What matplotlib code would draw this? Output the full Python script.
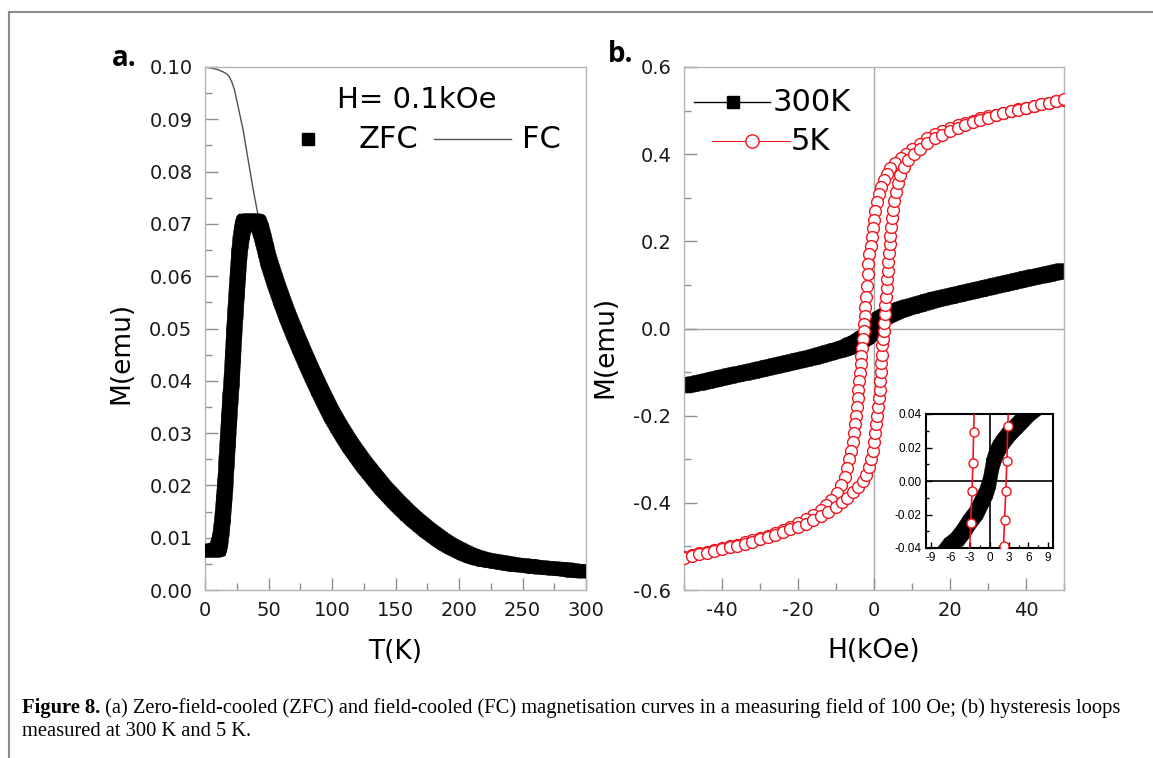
import numpy as np
import matplotlib
matplotlib.use('Agg')
import matplotlib.pyplot as plt
from matplotlib.lines import Line2D
from matplotlib.collections import PolyCollection
from matplotlib.ticker import MultipleLocator, FormatStrFormatter

plt.rcParams['font.family'] = 'DejaVu Sans'
plt.rcParams['axes.unicode_minus'] = False

# ---- (a) ZFC / FC, T in K, M in emu
T_zfc = [2, 4, 6, 8, 10, 11, 12, 13, 14, 15,
         16, 17, 18, 19, 20, 21, 22, 23, 24, 25,
         26, 27, 28, 29, 30, 31, 32, 33, 34, 35,
         36, 37, 38, 39, 40, 41, 42, 44, 46, 48,
         50, 55, 60, 65, 70, 75, 80, 85, 90, 95,
         100, 105, 110, 115, 120, 125, 130, 135, 140, 145,
         150, 155, 160, 165, 170, 175, 180, 185, 190, 195,
         200, 205, 210, 215, 220, 225, 230, 235, 240, 245,
         250, 255, 260, 265, 270, 275, 280, 285, 290, 295,
         300]
M_zfc = [0.0075, 0.0075, 0.0075, 0.0076, 0.0078, 0.0085, 0.0095, 0.0115, 0.0140, 0.0170,
         0.0200, 0.0245, 0.0285, 0.0325, 0.0365, 0.0400, 0.0445, 0.0490, 0.0530, 0.0570,
         0.0605, 0.0640, 0.0665, 0.0682, 0.0695, 0.0702, 0.0705, 0.0706, 0.0706, 0.0706,
         0.0706, 0.0706, 0.0706, 0.0706, 0.0705, 0.0704, 0.0701, 0.0688, 0.0670, 0.0650,
         0.0630, 0.0592, 0.0557, 0.0524, 0.0494, 0.0465, 0.0437, 0.0410, 0.0384, 0.0359,
         0.0335, 0.0314, 0.0294, 0.0275, 0.0258, 0.0241, 0.0226, 0.0211, 0.0196, 0.0183,
         0.0170, 0.0158, 0.0146, 0.0135, 0.0125, 0.0115, 0.0106, 0.0097, 0.0089, 0.0082,
         0.0076, 0.0070, 0.0065, 0.0061, 0.0058, 0.0056, 0.0054, 0.0052, 0.0050, 0.0048,
         0.0047, 0.0046, 0.0044, 0.0043, 0.0042, 0.0041, 0.0040, 0.0039, 0.0037, 0.0036,
         0.0035]

T_fc = [0, 5, 10, 14, 17, 19, 21, 23, 26, 30,
        34, 38, 42, 50, 75, 100, 150, 200, 250, 300]
M_fc = [0.1000, 0.0998, 0.0995, 0.0991, 0.0987, 0.0982, 0.0972, 0.0958, 0.0925, 0.0880,
        0.0822, 0.0765, 0.0714, 0.0630, 0.0465, 0.0335, 0.0170, 0.0076, 0.0047, 0.0035]

# ---- (b) hysteresis loops, H in kOe, M in emu
H_300 = [-50, -48, -46, -44, -42, -40, -38, -36, -34, -32,
         -30, -28, -26, -24, -22, -20, -18, -16, -14, -12,
         -10, -9, -8, -7, -6, -5, -4, -3, -2, -1.5,
         -1, -0.5, 0, 0.5, 1, 1.5, 2, 3, 4, 5,
         6, 7, 8, 9, 10, 12, 14, 16, 18, 20,
         22, 24, 26, 28, 30, 32, 34, 36, 38, 40,
         42, 44, 46, 48, 50]
M_300 = [-0.132, -0.128, -0.125, -0.121, -0.117, -0.113, -0.109, -0.105, -0.102, -0.098,
         -0.094, -0.090, -0.086, -0.082, -0.078, -0.074, -0.070, -0.066, -0.061, -0.056,
         -0.051, -0.049, -0.046, -0.043, -0.038, -0.035, -0.030, -0.024, -0.019, -0.015,
         -0.011, -0.007, -0.001, 0.010, 0.016, 0.020, 0.023, 0.028, 0.032, 0.036,
         0.040, 0.043, 0.046, 0.049, 0.051, 0.056, 0.061, 0.066, 0.070, 0.074,
         0.078, 0.082, 0.086, 0.090, 0.094, 0.098, 0.102, 0.106, 0.110, 0.114,
         0.118, 0.121, 0.125, 0.129, 0.133]

# 5 K, descending branch (+50 -> -50)
H_5k_dn = [50, 48, 46, 44, 42, 40, 38, 36, 34, 32,
           30, 28, 26, 24, 22, 20, 18, 16, 14, 12,
           10.0, 8.5, 7.0, 5.5, 4.3, 3.3, 2.5, 1.8, 1.2, 0.7,
           0.3, 0.0, -0.3, -0.6, -0.9, -1.2, -1.45, -1.7, -1.95, -2.15,
           -2.3, -2.45, -2.55, -2.7, -2.9, -3.1, -3.3, -3.5, -3.7, -3.9,
           -4.1, -4.3, -4.5, -4.75, -5.0, -5.3, -5.65, -6.05, -6.5, -7.0,
           -7.7, -8.6, -9.8, -11.2, -12.6, -14, -16, -18, -20, -22,
           -24, -26, -28, -30, -32, -34, -36, -38, -40, -42,
           -44, -46, -48, -50]
M_5k_dn = [0.525, 0.521, 0.518, 0.514, 0.511, 0.507, 0.503, 0.499, 0.495, 0.491,
           0.487, 0.482, 0.477, 0.472, 0.467, 0.461, 0.454, 0.446, 0.436, 0.424,
           0.412, 0.401, 0.391, 0.380, 0.368, 0.355, 0.341, 0.325, 0.308, 0.290,
           0.270, 0.250, 0.230, 0.210, 0.190, 0.170, 0.148, 0.124, 0.098, 0.072,
           0.050, 0.029, 0.011, -0.006, -0.025, -0.044, -0.063, -0.082, -0.101, -0.120,
           -0.140, -0.160, -0.180, -0.200, -0.220, -0.240, -0.260, -0.280, -0.300, -0.320,
           -0.340, -0.360, -0.378, -0.393, -0.405, -0.416, -0.428, -0.438, -0.447, -0.455,
           -0.462, -0.469, -0.475, -0.481, -0.486, -0.491, -0.496, -0.500, -0.504, -0.508,
           -0.512, -0.516, -0.520, -0.524]

# 5 K, ascending branch (-50 -> +50)
H_5k_up = [-50, -48, -46, -44, -42, -40, -38, -36, -34, -32,
           -30, -28, -26, -24, -22, -20, -18, -16, -14, -12,
           -10.0, -8.5, -7.0, -5.5, -4.2, -3.0, -2.0, -1.3, -0.8, -0.35,
           0.0, 0.3, 0.6, 0.85, 1.05, 1.25, 1.45, 1.6, 1.75, 1.9,
           2.05, 2.17, 2.32, 2.52, 2.68, 2.83, 3.0, 3.15, 3.3, 3.45,
           3.6, 3.75, 3.9, 4.1, 4.3, 4.5, 4.75, 5.0, 5.3, 5.7,
           6.2, 6.9, 7.8, 9.0, 10.5, 12, 14, 16, 18, 20,
           22, 24, 26, 28, 30, 32, 34, 36, 38, 40,
           42, 44, 46, 48, 50]
M_5k_up = [-0.526, -0.522, -0.518, -0.514, -0.510, -0.506, -0.502, -0.498, -0.494, -0.489,
           -0.484, -0.479, -0.473, -0.467, -0.461, -0.455, -0.448, -0.440, -0.431, -0.421,
           -0.409, -0.398, -0.388, -0.376, -0.364, -0.350, -0.335, -0.318, -0.300, -0.280,
           -0.260, -0.240, -0.220, -0.200, -0.180, -0.160, -0.140, -0.120, -0.100, -0.080,
           -0.060, -0.039, -0.023, -0.006, 0.012, 0.033, 0.053, 0.073, 0.093, 0.113,
           0.133, 0.153, 0.173, 0.193, 0.213, 0.233, 0.253, 0.273, 0.293, 0.313,
           0.333, 0.352, 0.370, 0.386, 0.400, 0.412, 0.425, 0.436, 0.445, 0.453,
           0.460, 0.467, 0.473, 0.479, 0.484, 0.489, 0.494, 0.498, 0.502, 0.506,
           0.510, 0.514, 0.518, 0.522, 0.526]

caption_bold = 'Figure 8.'
caption_1 = (' (a) Zero-field-cooled (ZFC) and field-cooled (FC) magnetisation curves in a '
             'measuring field of 100 Oe; (b) hysteresis loops')
caption_2 = 'measured at 300 K and 5 K.'

RED = '#f0141e'
W, H = 1153, 758

fig = plt.figure(figsize=(W / 100, H / 100), dpi=100)


def box(x0, y0, x1, y1):
    # pixel box (top-left origin) -> figure rect
    return [x0 / W, 1 - y1 / H, (x1 - x0) / W, (y1 - y0) / H]


def style(ax):
    for s in ax.spines.values():
        s.set_color('#b4b4b4')
        s.set_linewidth(1)
    ax.tick_params(which='both', direction='in', color='#909090',
                   labelcolor='#1a1a1a', labelsize=14, top=False, right=False)
    ax.tick_params(which='major', length=9, width=1)
    ax.tick_params(which='minor', length=5, width=1)
    ax.tick_params(axis='y', pad=9)
    ax.tick_params(axis='x', pad=8)


def hull(points):
    pts = sorted(map(tuple, points))

    def cross(o, a, b):
        return (a[0] - o[0]) * (b[1] - o[1]) - (a[1] - o[1]) * (b[0] - o[0])
    lower, upper = [], []
    for q in pts:
        while len(lower) >= 2 and cross(lower[-2], lower[-1], q) <= 0:
            lower.pop()
        lower.append(q)
    for q in reversed(pts):
        while len(upper) >= 2 and cross(upper[-2], upper[-1], q) <= 0:
            upper.pop()
        upper.append(q)
    return lower[:-1] + upper[:-1]


def square_band(ax, xs, ys, hw, hh, color, zorder=3):
    # densely packed square markers -> sweep a hw x hh (pixel) square along the data
    tr = ax.transData
    pts = tr.transform(np.column_stack([xs, ys]))
    corners = np.array([[-hw, -hh], [hw, -hh], [hw, hh], [-hw, hh]])
    polys = []
    for i in range(len(pts) - 1):
        cloud = np.vstack([pts[i] + corners, pts[i + 1] + corners])
        polys.append(tr.inverted().transform(np.array(hull(cloud))))
    ax.add_collection(PolyCollection(polys, facecolors=color, edgecolors=color,
                                     linewidths=0.3, zorder=zorder))


# ---------------- panel a
axa = fig.add_axes(box(205, 67, 586, 590))
style(axa)
axa.set_xlim(0, 300)
axa.set_ylim(0, 0.10)
axa.plot(T_fc, M_fc, color='#505050', lw=1, zorder=2)
square_band(axa, T_zfc, M_zfc, 7.5, 6.5, 'black')
axa.xaxis.set_major_locator(MultipleLocator(50))
axa.xaxis.set_minor_locator(MultipleLocator(25))
axa.yaxis.set_major_locator(MultipleLocator(0.01))
axa.yaxis.set_minor_locator(MultipleLocator(0.005))
axa.yaxis.set_major_formatter(FormatStrFormatter('%.2f'))

# legend of panel a
axa.text(0.556, 0.937, 'H= 0.1kOe', transform=axa.transAxes, fontsize=21,
         ha='center', va='center')
axa.plot([0.270], [0.862], marker='s', ms=9, color='black', transform=axa.transAxes,
         clip_on=False)
axa.text(0.402, 0.862, 'ZFC', transform=axa.transAxes, fontsize=22, ha='left', va='center')
axa.plot([0.601, 0.803], [0.862, 0.862], color='#505050', lw=1, transform=axa.transAxes)
axa.text(0.832, 0.862, 'FC', transform=axa.transAxes, fontsize=22, ha='left', va='center')

# ---------------- panel b
axb = fig.add_axes(box(684, 67, 1064, 590))
style(axb)
axb.set_xlim(-50, 50)
axb.set_ylim(-0.6, 0.6)
axb.axhline(0, color='#a8a8a8', lw=1, zorder=1)
axb.axvline(0, color='#a8a8a8', lw=1, zorder=1)
square_band(axb, H_300, M_300, 7, 7, 'black', zorder=2)
for hh, mm in [(H_5k_dn, M_5k_dn), (H_5k_up, M_5k_up)]:
    axb.plot(hh, mm, color=RED, lw=0.8, marker='o', ms=8.5, mfc='white',
             mec=RED, mew=1, zorder=3)
axb.xaxis.set_major_locator(MultipleLocator(20))
axb.xaxis.set_minor_locator(MultipleLocator(10))
axb.yaxis.set_major_locator(MultipleLocator(0.2))
axb.yaxis.set_minor_locator(MultipleLocator(0.1))
axb.yaxis.set_major_formatter(FormatStrFormatter('%.1f'))

# legend of panel b
axb.plot([0.026, 0.226], [0.933, 0.933], color='black', lw=1, transform=axb.transAxes)
axb.plot([0.129], [0.933], marker='s', ms=9, color='black', transform=axb.transAxes)
axb.text(0.232, 0.933, '300K', transform=axb.transAxes, fontsize=22, ha='left', va='center')
axb.plot([0.074, 0.279], [0.8585, 0.8585], color=RED, lw=0.8, transform=axb.transAxes)
axb.plot([0.179], [0.8585], marker='o', ms=9.5, mfc='white', mec=RED, mew=1,
         transform=axb.transAxes)
axb.text(0.282, 0.8585, '5K', transform=axb.transAxes, fontsize=22, ha='left', va='center')

# ---------------- inset
axi = fig.add_axes(box(926, 414, 1053, 548))
for s in axi.spines.values():
    s.set_color('black')
    s.set_linewidth(1.5)
axi.set_xlim(-9.8, 9.8)
axi.set_ylim(-0.04, 0.04)
axi.axhline(0, color='black', lw=1.2, zorder=1)
axi.axvline(0, color='black', lw=1.2, zorder=1)
square_band(axi, H_300, M_300, 6, 6, 'black', zorder=2)
for hh, mm in [(H_5k_dn, M_5k_dn), (H_5k_up, M_5k_up)]:
    axi.plot(hh, mm, color=RED, lw=1.2, marker='o', ms=6.5, mfc='white',
             mec=RED, mew=1, zorder=3)
axi.xaxis.set_major_locator(MultipleLocator(3))
axi.xaxis.set_minor_locator(MultipleLocator(1.5))
axi.yaxis.set_major_locator(MultipleLocator(0.02))
axi.yaxis.set_minor_locator(MultipleLocator(0.01))
axi.xaxis.set_major_formatter(FormatStrFormatter('%d'))
axi.yaxis.set_major_formatter(FormatStrFormatter('%.2f'))
axi.tick_params(which='both', direction='in', top=False, right=False, color='black',
                labelsize=8.5, pad=3)
axi.tick_params(which='major', length=4, width=1)
axi.tick_params(which='minor', length=2, width=1)
for lab in axi.get_xticklabels() + axi.get_yticklabels():
    lab.set_family('Liberation Sans')

# ---------------- axis titles, panel letters
fig.text(121 / W, 1 - 353 / H, 'M(emu)', rotation=90, fontsize=19, ha='center', va='center')
fig.text(605 / W, 1 - 347 / H, 'M(emu)', rotation=90, fontsize=19, ha='center', va='center')
fig.text(395 / W, 1 - 652 / H, 'T(K)', fontsize=19, ha='center', va='center')
fig.text(874 / W, 1 - 651 / H, 'H(kOe)', fontsize=19, ha='center', va='center')
fig.text(112 / W, 1 - 59 / H, 'a.', fontsize=20, fontweight='bold', family='Open Sans',
         ha='left', va='center')
fig.text(608 / W, 1 - 55 / H, 'b.', fontsize=20, fontweight='bold', family='Open Sans',
         ha='left', va='center')

# ---------------- page frame
fig.add_artist(Line2D([9 / W, 1], [1 - 12 / H, 1 - 12 / H], color='#8c8c8c', lw=1.5))
fig.add_artist(Line2D([9 / W, 9 / W], [0, 1 - 12 / H], color='#8c8c8c', lw=1.5))

# ---------------- caption, sized so the first line runs to the right margin
r = fig.canvas.get_renderer()
fs = 12.5
t_b = fig.text(22 / W, 1 - 708 / H, caption_bold, family='Liberation Serif',
               fontweight='bold', fontsize=fs, ha='left', va='center')
t_1 = fig.text(0, 1 - 708 / H, caption_1, family='Liberation Serif', fontsize=fs,
               ha='left', va='center')
t_2 = fig.text(22 / W, 1 - 732 / H, caption_2, family='Liberation Serif', fontsize=fs,
               ha='left', va='center')
line_w = t_b.get_window_extent(r).width + t_1.get_window_extent(r).width
fs = fs * (1122 - 22) / line_w
for t in (t_b, t_1, t_2):
    t.set_fontsize(fs)
t_1.set_x(t_b.get_window_extent(r).x1 / W)

fig.savefig('out.png', dpi=100)
